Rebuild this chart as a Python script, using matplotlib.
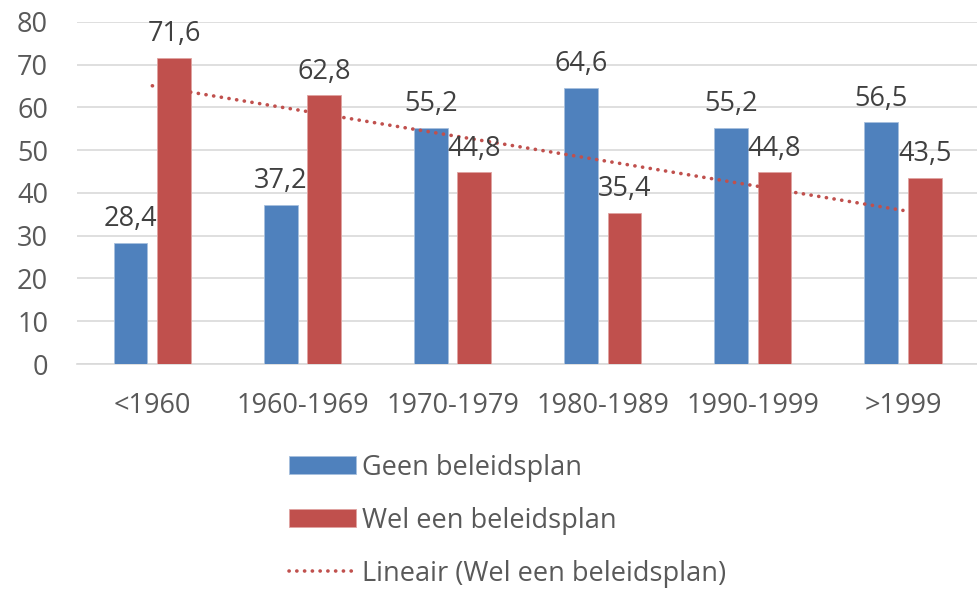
import numpy as np
import matplotlib.pyplot as plt

plt.rcParams['font.family'] = ['Open Sans', 'DejaVu Sans']

# Share of schools per construction period (%)
periods = ["<1960", "1960-1969", "1970-1979", "1980-1989", "1990-1999", ">1999"]
geen_plan = [28.4, 37.2, 55.2, 64.6, 55.2, 56.5]
wel_plan = [71.6, 62.8, 44.8, 35.4, 44.8, 43.5]

BLUE = "#4F81BD"
RED = "#C0504D"
GRID = "#D9D9D9"
TEXT = "#595959"
LABEL = "#404040"
FS = 19.5

fig = plt.figure(figsize=(9.78, 5.90), dpi=100)
ax = fig.add_axes([0.079, 0.383, 0.921, 0.580])

x = np.arange(len(periods))
w = 0.225
off = 0.145
b1 = ax.bar(x - off, geen_plan, w, color=BLUE, edgecolor="#A7C0DE", linewidth=0.6,
            label="Geen beleidsplan", zorder=3)
b2 = ax.bar(x + off, wel_plan, w, color=RED, edgecolor="#E0A3A1", linewidth=0.6,
            label="Wel een beleidsplan", zorder=3)

# linear trend of the second series
slope, icpt = np.polyfit(x, wel_plan, 1)
trend, = ax.plot(x, slope * x + icpt, color=RED, linewidth=2.6, zorder=4,
                 linestyle=(0, (0.05, 2.1)), dash_capstyle="round",
                 label="Lineair (Wel een beleidsplan)")

for bars, vals in ((b1, geen_plan), (b2, wel_plan)):
    for r, v in zip(bars, vals):
        ax.annotate(f"{v:.1f}".replace(".", ","),
                    (r.get_x() + r.get_width() / 2, v),
                    xytext=(0, 7), textcoords="offset points",
                    ha="center", va="bottom", fontsize=FS, color=LABEL, zorder=5)

ax.set_ylim(0, 80)
ax.set_xlim(-0.5, len(periods) - 0.5)
ax.set_yticks(range(0, 81, 10))
ax.set_xticks(x)
ax.set_xticklabels(periods)
ax.tick_params(axis="both", length=0, labelsize=FS, colors=TEXT)
ax.tick_params(axis="x", pad=20)
ax.tick_params(axis="y", pad=21)
ax.yaxis.grid(True, color=GRID, linewidth=1.2, zorder=0)
for s in ("top", "right", "left"):
    ax.spines[s].set_visible(False)
ax.spines["bottom"].set_color(GRID)
ax.spines["bottom"].set_linewidth(1.2)

leg = fig.legend(handles=[b1, b2, trend], loc="upper left",
                 bbox_to_anchor=(0.282, 0.254), frameon=False, fontsize=FS,
                 handlelength=2.45, handleheight=0.65, handletextpad=0.25,
                 labelspacing=0.92, borderpad=0)
for t in leg.get_texts():
    t.set_color(TEXT)

fig.savefig("out.png", dpi=100)
